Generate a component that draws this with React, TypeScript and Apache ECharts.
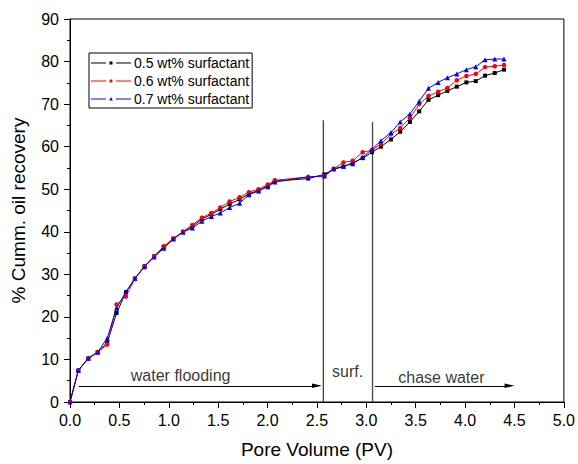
import React, { useEffect, useRef } from "react";
import * as echarts from "echarts";

const poreVolume = [0, 0.084, 0.185, 0.28, 0.377, 0.472, 0.566, 0.657, 0.755, 0.852, 0.949, 1.047, 1.144, 1.239, 1.336, 1.431, 1.522, 1.616, 1.717, 1.811, 1.909, 2.003, 2.074, 2.411, 2.576, 2.67, 2.768, 2.862, 2.963, 3.058, 3.148, 3.249, 3.343, 3.441, 3.535, 3.629, 3.727, 3.821, 3.916, 4.013, 4.108, 4.202, 4.3, 4.394];
const recovery05 = [0, 7.4, 10.2, 11.7, 14.0, 20.9, 25.8, 29.0, 31.9, 34.2, 36.4, 38.4, 40.0, 41.3, 43.0, 44.1, 45.3, 46.5, 47.6, 48.9, 49.7, 50.8, 51.9, 52.5, 53.5, 54.7, 55.3, 56.2, 57.3, 58.7, 60.0, 61.7, 63.5, 65.8, 68.3, 71.0, 72.1, 73.1, 74.1, 75.1, 75.4, 76.7, 77.3, 78.1];
const recovery06 = [0, 7.4, 10.3, 11.7, 13.5, 22.9, 24.8, 29.0, 31.9, 34.3, 36.6, 38.4, 40.0, 41.6, 43.3, 44.4, 45.7, 47.1, 48.1, 49.3, 50.0, 51.1, 52.1, 52.9, 53.1, 54.8, 56.3, 56.7, 58.7, 59.2, 60.6, 62.9, 64.4, 66.7, 70.0, 71.9, 72.9, 73.8, 75.6, 76.6, 77.1, 78.7, 78.9, 79.2];
const recovery07 = [0, 7.4, 10.3, 11.7, 15.0, 22.1, 25.9, 29.0, 31.8, 34.1, 36.1, 38.3, 39.9, 40.9, 42.5, 43.6, 44.4, 45.7, 46.7, 48.7, 49.6, 50.6, 51.7, 52.9, 53.1, 54.8, 55.4, 56.0, 57.5, 59.4, 61.4, 63.3, 65.8, 67.7, 70.7, 73.7, 75.1, 76.2, 77.1, 78.1, 78.8, 80.4, 80.6, 80.6];
const seriesNames = ["0.5 wt% surfactant", "0.6 wt% surfactant", "0.7 wt% surfactant"];
const stageBoundaries = [
  [[2.565, 0], [2.565, 66.2]],
  [[3.063, 0], [3.063, 65.8]],
];
const stageArrows = [
  [[0.09, 3.8], [2.5, 3.8]],
  [[3.087, 3.8], [4.45, 3.8]],
];
const stageLabels = [
  { name: "water flooding", value: [1.12, 6.3] },
  { name: "surf.", value: [2.81, 7.1] },
  { name: "chase water", value: [3.76, 5.8] },
];

const FONT = "Liberation Sans, Arial, sans-serif";

const BOX = "M0,0h0.01v0.01h-0.01z M40,8h-0.01v-0.01h0.01z M0,3.5h15v1h-15z M25,3.5h15v1h-15z";
const legendIcons = [
  "path://" + BOX + " M18.5,2.5h3v3h-3z",
  "path://" + BOX + " M19.2,2.5h1.6l0.7,0.7v1.6l-0.7,0.7h-1.6l-0.7,-0.7v-1.6z",
  "path://" + BOX + " M20,2 L21.8,5.6 L18.2,5.6 Z",
];

export default function App() {
  const ref = useRef<HTMLDivElement>(null);
  useEffect(() => {
    const chart = echarts.init(ref.current!, null, { renderer: "svg" });
    const mk = (ys: number[]) => poreVolume.map((x, i) => [x, ys[i]]);
    const lineSeries = (name: string, ys: number[], color: string, symbol: string, size: number) => ({
      name,
      type: "line",
      data: mk(ys),
      symbol,
      symbolSize: size,
      itemStyle: { color },
      lineStyle: { color, width: 1 },
      z: 3,
    });
    chart.setOption({
      animation: false,
      backgroundColor: "#fff",
      textStyle: { fontFamily: FONT },
      grid: { left: 70, right: 12, top: 19, bottom: 50, show: true, borderColor: "#000", borderWidth: 1 },
      legend: {
        orient: "vertical",
        left: 89,
        top: 53,
        itemWidth: 40,
        itemHeight: 8,
        itemGap: 4,
        padding: [3, 3, 2, 2],
        borderColor: "#000",
        borderWidth: 1,
        backgroundColor: "#fff",
        textStyle: { fontSize: 14, color: "#000", fontFamily: FONT, padding: [0, 0, 0, -2] },
        data: seriesNames.map((n, i) => ({ name: n, icon: legendIcons[i] })),
      },
      xAxis: {
        type: "value",
        min: 0,
        max: 5,
        interval: 0.5,
        name: "Pore Volume (PV)",
        nameLocation: "middle",
        nameGap: 38,
        nameTextStyle: { fontSize: 19, color: "#000", fontFamily: FONT },
        axisLine: { lineStyle: { color: "#000", width: 1 } },
        axisTick: { show: true, length: 6, inside: false, lineStyle: { color: "#000" } },
        minorTick: { show: true, splitNumber: 2, length: 3, lineStyle: { color: "#000" } },
        splitLine: { show: false },
        axisLabel: { fontSize: 16, color: "#000", margin: 10, fontFamily: FONT, formatter: (v: number) => v.toFixed(1) },
      },
      yAxis: {
        type: "value",
        min: 0,
        max: 90,
        interval: 10,
        name: "% Cumm. oil recovery",
        nameLocation: "middle",
        nameGap: 42,
        nameTextStyle: { fontSize: 19, color: "#000", fontFamily: FONT },
        axisLine: { show: true, lineStyle: { color: "#000", width: 1 } },
        axisTick: { show: true, length: 6, inside: false, lineStyle: { color: "#000" } },
        minorTick: { show: true, splitNumber: 2, length: 3, lineStyle: { color: "#000" } },
        splitLine: { show: false },
        axisLabel: { fontSize: 16, color: "#000", margin: 11, fontFamily: FONT },
      },
      series: [
        lineSeries(seriesNames[0], recovery05, "#000000", "rect", 4),
        lineSeries(seriesNames[1], recovery06, "#ff0000", "circle", 4.5),
        lineSeries(seriesNames[2], recovery07, "#0000ff", "triangle", 5),
        ...stageBoundaries.map((d, k) => ({
          type: "line",
          data: d,
          symbol: "none",
          lineStyle: { color: "#444", width: 1.3 },
          silent: true,
          z: 1,
          markLine:
            k === 0
              ? {
                  silent: true,
                  symbol: ["none", "triangle"],
                  symbolSize: 9,
                  label: { show: false },
                  lineStyle: { color: "#000", width: 1, type: "solid" },
                  itemStyle: { color: "#000" },
                  emphasis: { disabled: true },
                  data: stageArrows.map(([a, b]) => [
                    { coord: a, symbol: "none" },
                    { coord: b, symbol: "triangle", symbolSize: [4.5, 10] },
                  ]),
                }
              : undefined,
        })),
        {
          type: "scatter",
          data: stageLabels,
          symbolSize: 0,
          silent: true,
          label: {
            show: true,
            position: "inside",
            formatter: (p: any) => p.name,
            fontSize: 16,
            color: "#000",
            fontFamily: FONT,
          },
        },
      ],
    });
    return () => chart.dispose();
  }, []);
  return <div ref={ref} style={{ position: "absolute", left: 0, top: 0, width: 578, height: 464 }} />;
}
